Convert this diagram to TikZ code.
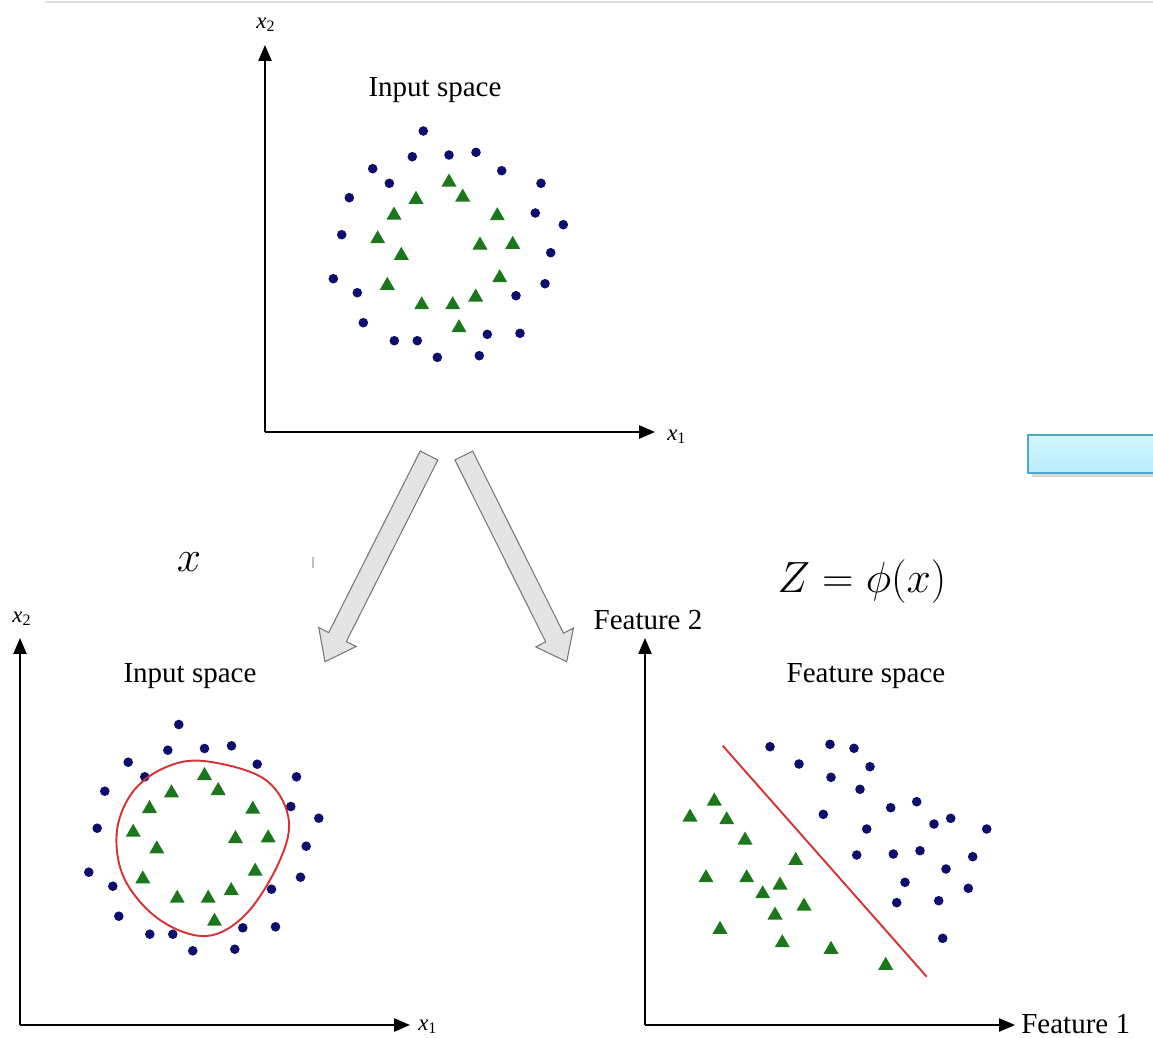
\documentclass[tikz,border=0pt]{standalone}
\usepackage[no-math]{fontspec}
\setmainfont{Liberation Serif}
\usetikzlibrary{arrows.meta,shadows}

\definecolor{dotblue}{RGB}{14,14,110}
\definecolor{trigreen}{RGB}{28,118,28}
\definecolor{sepred}{RGB}{212,52,52}
\definecolor{boxtop}{RGB}{212,246,255}
\definecolor{boxbot}{RGB}{184,236,255}
\definecolor{boxedge}{RGB}{75,170,200}
\definecolor{arrowfill}{RGB}{228,228,228}
\definecolor{arrowedge}{RGB}{120,120,120}

% ring pattern of the input space (pixel coordinates)
\newcommand{\ringdots}{423.3/131, 412.3/156.7, 449/155, 476/152.3, 372.7/168.7,
  501.7/170.7, 389.3/183.3, 541/183.3, 349.3/197.7, 535.3/213, 563.3/224.7,
  341.7/234.7, 550.7/252.7, 333.3/278.7, 545/283.7, 357.3/292.7, 516/295.7,
  363.3/322.7, 520/333.3, 487.3/334.3, 394.3/340.7, 417.3/340.7, 437.3/357.3,
  479.3/355.7}
\newcommand{\ringtris}{449/181, 462.7/196, 416/198.3, 394/214, 497.3/214.7,
  377.7/237.7, 480/244, 512.7/243.3, 401.3/254.3, 499.7/276.7, 387.3/284.3,
  475.7/296, 421.7/303.7, 452.7/303.7, 459/326.7}
% feature space (pixel coordinates)
\newcommand{\featdots}{770/746.7, 830/744.3, 854/748.3, 799/764, 870/766.7,
  831/777.3, 860/789.3, 890.7/807.7, 916.7/801.7, 823.3/814.3, 934/824,
  950.7/818.3, 986.7/829, 866.7/829, 856.7/855, 893.3/854, 920/850.7,
  972.7/856.7, 946/869, 905/882.3, 968.3/888.3, 896.7/902.7, 938.7/900.7,
  942.7/938.3}
\newcommand{\feattris}{714.3/800, 690/816, 726.7/818.7, 745/839, 795.7/859.3,
  706/876.7, 746.7/876.7, 780/884, 762.7/892.7, 804/905, 775/914, 720/928.3,
  782.3/941.7, 831/948.3, 885.7/964.3}

\tikzset{
  axis/.style={line width=0.8pt, -{Triangle[length=9pt,width=7.5pt]}},
  dot/.style={fill=dotblue},
  tri/.style={fill=trigreen},
  lbl/.style={font=\fontsize{16.5}{18}\selectfont, inner sep=0pt},
  axlbl/.style={font=\fontsize{13}{15}\selectfont, inner sep=0pt},
  maplbl/.style={font=\fontsize{27}{30}\selectfont, inner sep=0pt},
  bigarrow/.style={fill=arrowfill, draw=arrowedge, line width=0.6pt, line join=miter},
}

\begin{document}
\begin{tikzpicture}[x=0.02cm, y=-0.02cm]
\useasboundingbox (0,0) rectangle (1153,1038);

% --- borde superior y caja cian ---
\draw[gray!25, line width=1.2pt] (45,2) -- (1153,2);
\draw[boxedge, line width=1.2pt, top color=boxtop, bottom color=boxbot,
  drop shadow={opacity=0.3, shadow xshift=2pt, shadow yshift=-2pt}]
  (1028,435) rectangle (1175,473);

% --- espacio de entrada (arriba) ---
\coordinate (topO) at (265,432);
\coordinate (topY) at (265,45);
\coordinate (topX) at (655,432);
\draw[axis] (topO) -- (topY);
\draw[axis] (topO) -- (topX);
\node[axlbl] (topx2) at (266,25) {\textit{x}\textsubscript{2}};
\node[axlbl, anchor=west] (topx1) at (667,437) {\textit{x}\textsubscript{1}};
\node[lbl] (topspace) at (435,90) {Input space};
\foreach \px/\py in \ringdots
  \fill[dot] (\px,\py) circle[radius=4.8];
\foreach \px/\py in \ringtris
  \fill[tri] (\px,\py) ++(-7.5,5.5) -- ++(15,0) -- ++(-7.5,-13) -- cycle;

% --- flechas grandes ---
\draw[bigarrow] (437.8,460.0) -- (346.3,641.6) -- (356.2,646.5) -- (325,661.7)
  -- (318.8,627.6) -- (328.7,632.6) -- (420.2,451.0) -- cycle;
\draw[bigarrow] (472.7,451.1) -- (563.5,633.1) -- (573.4,628.1) -- (566.7,661.7)
  -- (535.8,646.9) -- (545.7,641.9) -- (454.9,459.9) -- cycle;
\draw[gray!50, line width=0.6pt] (313,557) -- (313,568);

% etiquetas de la transformacion
\node[maplbl] (xin) at (189,562) {$x$};
\node[maplbl] (zmap) at (862,582) {$Z = \phi(x)$};

% --- espacio de entrada (abajo, con frontera) ---
\coordinate (leftO) at (20,1025);
\coordinate (leftY) at (20,638);
\coordinate (leftX) at (410,1025);
\draw[axis] (leftO) -- (leftY);
\draw[axis] (leftO) -- (leftX);
\node[axlbl] (leftx2) at (22,619) {\textit{x}\textsubscript{2}};
\node[axlbl, anchor=west] (leftx1) at (418,1027) {\textit{x}\textsubscript{1}};
\node[lbl] (leftspace) at (190,676) {Input space};
\begin{scope}[shift={(-244.5,593.5)}]
  \foreach \px/\py in \ringdots
    \fill[dot] (\px,\py) circle[radius=4.8];
  \foreach \px/\py in \ringtris
    \fill[tri] (\px,\py) ++(-7.5,5.5) -- ++(15,0) -- ++(-7.5,-13) -- cycle;
\end{scope}
\draw[sepred, line width=1.1pt] plot[smooth cycle, tension=0.6] coordinates {
  (203.3,761) (263.3,778.3) (288.3,816.7) (280,860) (246.7,913.3)
  (206.7,936) (160,920) (125,880) (116.7,833.3) (131.7,793.3) (163.3,768.3)};

% --- espacio de caracteristicas ---
\coordinate (featO) at (645,1025);
\coordinate (featY) at (645,638);
\coordinate (featX) at (1015,1025);
\draw[axis] (featO) -- (featY);
\draw[axis] (featO) -- (featX);
\node[lbl] (feat2) at (648,620) {Feature 2};
\node[lbl, anchor=west] (feat1) at (1021,1024) {Feature 1};
\node[lbl] (featspace) at (866,676) {Feature space};
\foreach \px/\py in \featdots
  \fill[dot] (\px,\py) circle[radius=4.8];
\foreach \px/\py in \feattris
  \fill[tri] (\px,\py) ++(-7.5,5.5) -- ++(15,0) -- ++(-7.5,-13) -- cycle;
\coordinate (sepA) at (722.7,745.7);
\coordinate (sepB) at (926.7,976.7);
\draw[sepred, line width=1.1pt] (sepA) -- (sepB);

\end{tikzpicture}
\end{document}
